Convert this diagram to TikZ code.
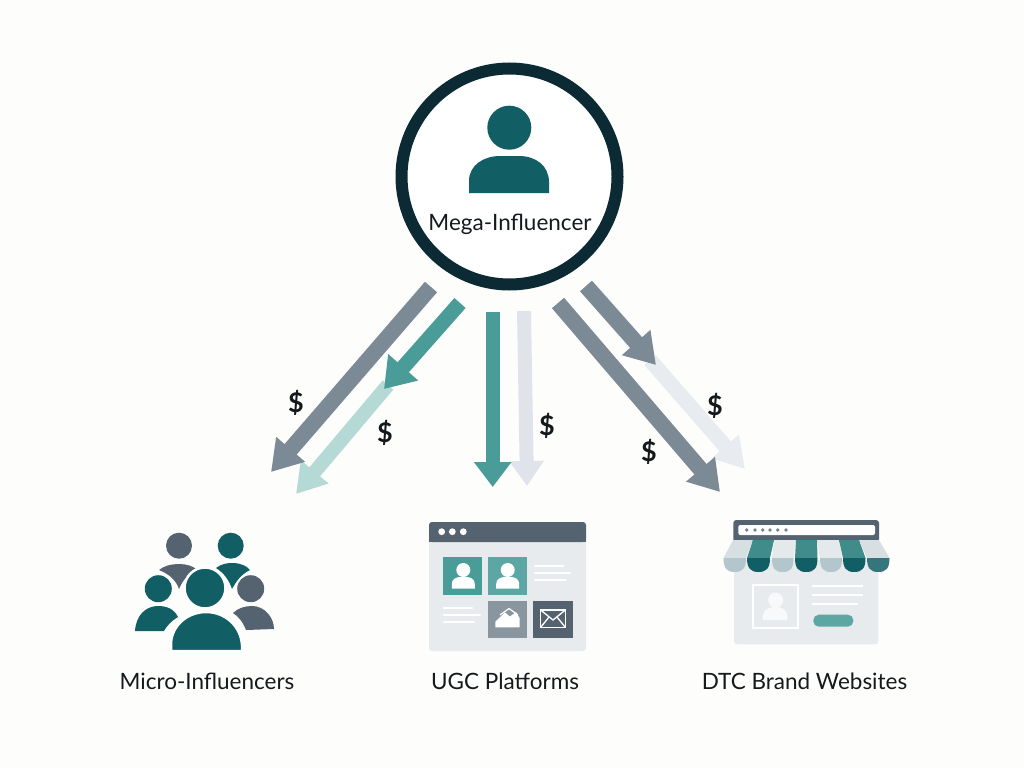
\documentclass[tikz,border=0pt]{standalone}
\usepackage{fontspec}
\setmainfont{Lato}
\usetikzlibrary{arrows.meta}
\definecolor{bgout}{HTML}{FDFDFC}
\definecolor{ringc}{HTML}{0B2A33}
\definecolor{tealD}{HTML}{115E65}
\definecolor{tealM}{HTML}{4A9C99}
\definecolor{tealL}{HTML}{B5DAD5}
\definecolor{grayA}{HTML}{7C8A96}
\definecolor{grayL}{HTML}{E0E4EA}
\definecolor{grayP}{HTML}{E8ECF0}
\definecolor{slate}{HTML}{55626F}
\definecolor{panel}{HTML}{E8EBEE}
\definecolor{awnL}{HTML}{D8DFE2}
\definecolor{awnB}{HTML}{B3C6CC}
\definecolor{awnT}{HTML}{3F8C8B}
\definecolor{txt}{HTML}{15191C}
\tikzset{
  flow/.style n args={4}{draw=#1,line width=#2,-{Triangle[length=#3,width=#4,color=#1]}},
  lab/.style={text=txt,font=\fontsize{22.5}{26}\selectfont,inner sep=0pt,anchor=center},
  money/.style={text=txt,font=\bfseries\fontsize{27}{30}\selectfont,inner sep=0pt,anchor=center},
  wline/.style={draw=white,line width=2.2pt,line cap=round},
}
\newcommand{\tileperson}[2]{%
  \fill[white] (#1,#2) circle[radius=7pt];
  \fill[white] (#1-11.5,#2+18.5) -- (#1-11.5,#2+14) .. controls (#1-11.5,#2+9) and (#1-7,#2+7) .. (#1-3,#2+7) -- (#1+3,#2+7) .. controls (#1+7,#2+7) and (#1+11.5,#2+9) .. (#1+11.5,#2+14) -- (#1+11.5,#2+18.5) -- cycle;}
\newcommand{\awn}[6]{% top-left, top-right, bottom-left, bottom-right x; upper, lower colours
  \fill[#5] (#1,540) -- (#2,540) -- (#4,558) -- (#3,558) -- cycle;
  \fill[#6] (#3,558) -- (#4,558) .. controls (#4,568) and ({(#3+#4)/2+8},572) .. ({(#3+#4)/2},572) .. controls ({(#3+#4)/2-8},572) and (#3,568) .. (#3,558) -- cycle;}
\begin{document}
\begin{tikzpicture}[x=1pt,y=-1pt]
\useasboundingbox (0,0) rectangle (1024,768);
\fill[bgout] (0,0) rectangle (1024,768);

% hub
\node[circle,draw=ringc,line width=12pt,fill=white,minimum size=216pt,inner sep=0pt] (hub) at (509.5,176.5) {};
\fill[tealD] (509.3,127.7) circle[radius=22pt];
\fill[tealD] (469,193) -- (469,181) .. controls (469,165) and (484,156) .. (500,156) -- (519,156) .. controls (536,156) and (549,166) .. (549,182) -- (549,193) -- cycle;
\node[lab] (hublab) at (510,224) {Mega-Influencer};

% arrow end points
\coordinate (a1s) at (431,287); \coordinate (a1e) at (271,472);
\coordinate (a2s) at (460,303); \coordinate (a2e) at (384,389);
\coordinate (a3s) at (388,385); \coordinate (a3e) at (296,494);
\coordinate (a4s) at (492.7,312); \coordinate (a4e) at (492.7,487);
\coordinate (a5s) at (524,311); \coordinate (a5e) at (527,486);
\coordinate (a6s) at (586,286); \coordinate (a6e) at (656,365);
\coordinate (a7s) at (650,360); \coordinate (a7e) at (745,469);
\coordinate (a8s) at (558,303); \coordinate (a8e) at (720,492);

\draw[flow={tealL}{14pt}{29pt}{34pt}] (a3s) -- (a3e);
\draw[flow={tealM}{15pt}{29pt}{38pt}] (a2s) -- (a2e);
\draw[flow={grayA}{16pt}{30pt}{36pt}] (a1s) -- (a1e);
\draw[flow={grayL}{14pt}{25pt}{33pt}] (a5s) -- (a5e);
\draw[flow={tealM}{14pt}{25pt}{36pt}] (a4s) -- (a4e);
\draw[flow={grayP}{15pt}{30pt}{34pt}] (a7s) -- (a7e);
\draw[flow={grayA}{16pt}{30pt}{36pt}] (a6s) -- (a6e);
\draw[flow={grayA}{16pt}{30pt}{36pt}] (a8s) -- (a8e);

\node[money] (d1) at (296,403) {\$};
\node[money] (d2) at (385,433) {\$};
\node[money] (d3) at (547,426) {\$};
\node[money] (d4) at (715,406) {\$};
\node[money] (d5) at (649,452) {\$};

% micro-influencers icon
\fill[slate] (179,545.7) circle[radius=13pt];
\fill[tealD] (230.7,545.7) circle[radius=13pt];
\fill[slate] (159,570) .. controls (168,562) and (190,562) .. (197,570) .. controls (186,575) and (182,582) .. (179,589) .. controls (176,580) and (169,574) .. (159,570) -- cycle;
\fill[tealD] (216,568) .. controls (226,560) and (244,562) .. (250,570) .. controls (240,575) and (236,582) .. (232,589) .. controls (229,580) and (224,573) .. (216,568) -- cycle;
\fill[tealD] (158.3,588.7) circle[radius=13.5pt];
\fill[slate] (250.7,588.7) circle[radius=13.5pt];
\fill[tealD] (135,631) .. controls (136,615) and (146,606) .. (158,606) .. controls (167,606) and (174,609) .. (178,617) .. controls (171,621) and (166,627) .. (164,631) -- cycle;
\fill[slate] (233,613) .. controls (238,608) and (245,606) .. (252,606) .. controls (265,606) and (274,618) .. (274,629) -- (246,630) .. controls (243,622) and (238,616) .. (233,613) -- cycle;
\fill[tealD,draw=white,line width=2.5pt] (205,588) circle[radius=20.5pt];
\fill[tealD,draw=white,line width=2.5pt] (171,651) -- (171,643) .. controls (172,625) and (188,612) .. (206,612) .. controls (226,612) and (241,627) .. (242,645) -- (242,651) -- cycle;
\node[lab] (micro) at (207,681) {Micro-Influencers};

% UGC icon
\fill[panel,rounded corners=3pt] (429,522) rectangle (586,651);
\fill[slate,rounded corners=3pt] (429,522) rectangle (586,542);
\fill[slate] (429,532) rectangle (586,542);
\foreach \dx in {441.7,452.3,463.3} \fill[white] (\dx,531.7) circle[radius=3.4pt];
\fill[tealM] (443.3,557) rectangle (482.3,595.3);
\fill[tealM!90!white] (488,557) rectangle (527,595.3);
\tileperson{463.3}{570}
\tileperson{507.7}{570}
\fill[grayA!90!white] (488,601) rectangle (527,637.7);
\fill[slate] (533.3,601) rectangle (572.7,637.7);
\fill[white] (495.3,627.3) -- (495.3,621.7) -- (505,612.5) -- (510,616.5) -- (516,612) -- (519.5,618) -- (519.5,627.3) -- cycle;
\draw[white,line width=1.2pt] (500,615) -- (509,608.5) -- (518,615);
\draw[white,line width=1.3pt] (540.7,610) rectangle (565.3,627.3);
\draw[white,line width=1.3pt] (540.7,610) -- (553,620) -- (565.3,610) (540.7,627.3) -- (549,617) (565.3,627.3) -- (557,617);
\foreach \yy/\xe in {566/563.3,573.3/570,580.3/565.7} \draw[wline] (535,\yy) -- (\xe,\yy);
\foreach \yy/\xe in {608.3/472,615.3/480,622.3/474} \draw[wline] (444,\yy) -- (\xe,\yy);
\node[lab] (ugc) at (505,681) {UGC Platforms};

% DTC icon
\fill[panel,rounded corners=3pt] (734,560) rectangle (878.3,644.3);
\fill[slate,rounded corners=3pt] (733.3,520) rectangle (879,542);
\fill[white,rounded corners=2pt] (738.3,525) rectangle (875,535);
\foreach \dx in {746.7,755,762.7,770,777.7,786} \fill[slate!80!white] (\dx,530) circle[radius=1.8pt];
\awn{733}{753}{723.5}{746}{awnL}{awnB}
\awn{753}{774}{747}{770}{awnT}{tealD}
\awn{774}{796}{772}{793.5}{awnL!70!white}{awnB}
\awn{796}{817}{795}{817.5}{awnT}{tealD}
\awn{817}{839}{820}{842}{awnL!70!white}{awnB}
\awn{839}{859}{843}{865.5}{awnT}{tealD}
\awn{859}{879}{867}{889.5}{awnL}{tealD!85!white}
\draw[white,line width=2pt] (752.7,585) rectangle (798.3,627.7);
\fill[white!70!panel] (775.7,600) circle[radius=7.5pt];
\fill[white!70!panel] (762.7,620) -- (762.7,616) .. controls (763,610) and (769,607) .. (774,607) -- (777,607) .. controls (782,607) and (787,610) .. (787.3,616) -- (787.3,620) -- cycle;
\foreach \yy/\xe in {586/862.7,594.7/862.7,604/858} \draw[white,line width=2.4pt] (811.7,\yy) -- (\xe,\yy);
\fill[tealM!90!white,rounded corners=5.5pt] (813.3,614.7) rectangle (853.3,626.7);
\node[lab] (dtc) at (804.5,681) {DTC Brand Websites};
\end{tikzpicture}
\end{document}
